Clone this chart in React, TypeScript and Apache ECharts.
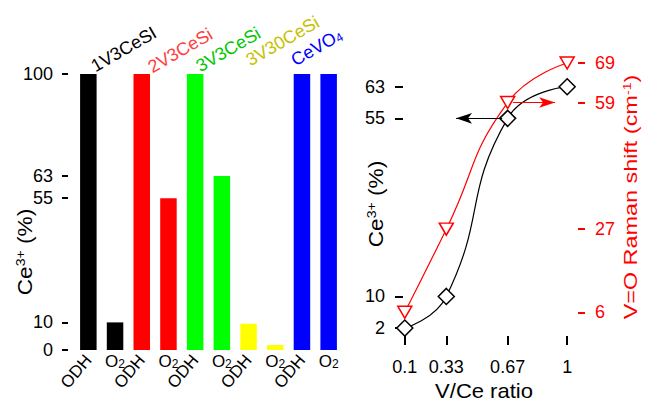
import React, { useEffect, useRef } from "react";
import * as echarts from "echarts";

const groups = ["1V3CeSI", "2V3CeSi", "3V3CeSi", "3V30CeSi", "CeVO4"];
const groupLabels = ["1V3CeSI", "2V3CeSi", "3V3CeSi", "3V30CeSi", "CeVO{sub|4}"];
const conditions = ["ODH", "O2"];
const odhValues = [100, 100, 100, 9.5, 100];
const o2Values = [10, 55, 63, 1.8, 100];
const barColors = ["#000000", "#ff0000", "#00ff00", "#ffff00", "#0000ff"];
const labelColors = ["#000000", "#ff4040", "#00c800", "#c8c000", "#0000ff"];
const leftTicks = [0, 10, 55, 63, 100];

const ratios = [0.1, 0.33, 0.67, 1];
const ce3Values = [2, 10, 55, 63];
const ramanValues = [6, 27, 59, 69];
const ce3Ticks = [2, 10, 55, 63];
const ramanTicks = [6, 27, 59, 69];

const FONT = "'Liberation Sans', Arial, sans-serif";

export default function App() {
  const ref = useRef<HTMLDivElement>(null);
  useEffect(() => {
    const chart = echarts.init(ref.current!, null, { renderer: "svg" });
    const categories = groups.flatMap((g) => conditions.map((c) => g + "|" + c));
    const barData = groups.flatMap((g, i) => [
      { value: odhValues[i], itemStyle: { color: barColors[i] } },
      { value: o2Values[i], itemStyle: { color: barColors[i] } },
    ]);
    const labelPos = [
      [97, 75],
      [154, 76],
      [202, 75],
      [252, 69],
      [297, 69],
    ];
    const topLabels = groupLabels.map((t, i) => ({
      type: "text",
      x: labelPos[i][0],
      y: labelPos[i][1],
      rotation: Math.PI / 6,
      style: {
        text: t,
        fill: labelColors[i],
        fontSize: 18,
        fontFamily: FONT,
        align: "left",
        verticalAlign: "bottom",
        rich: { sub: { fontSize: 12, fill: labelColors[i], fontFamily: FONT, verticalAlign: "bottom" } },
      },
    }));
    const axisTitle = (x: number, y: number, text: string, color: string, size: number, sx: number, rot: number) => ({
      type: "text",
      x,
      y,
      rotation: rot,
      scaleX: sx,
      style: {
        text,
        fill: color,
        fontSize: size,
        fontFamily: FONT,
        align: "center",
        verticalAlign: "middle",
        rich: {
          a: { fontSize: size, fill: color, fontFamily: FONT },
          sup: { fontSize: Math.round(size * 0.62), fill: color, fontFamily: FONT, verticalAlign: "top" },
        },
      },
    });
    const tickStyle = (color: string, width = 2) => ({ color, width });
    const option = {
      animation: false,
      backgroundColor: "#ffffff",
      textStyle: { fontFamily: FONT },
      grid: [
        { left: 75, top: 74, width: 267, height: 276 },
        { left: 403, top: 59, width: 175, height: 277 },
      ],
      xAxis: [
        {
          type: "category",
          gridIndex: 0,
          data: categories,
          axisLine: { show: false },
          axisTick: { show: false },
          splitLine: { show: false },
          axisLabel: {
            interval: 0,
            rotate: 50,
            margin: 7,
            fontSize: 17,
            color: "#000",
            fontFamily: FONT,
            formatter: (v: string) => (v.endsWith("ODH") ? "ODH" : ""),
          },
        },
        {
          type: "category",
          gridIndex: 0,
          position: "bottom",
          data: categories,
          axisLine: { show: false },
          axisTick: { show: false },
          splitLine: { show: false },
          axisLabel: {
            interval: 0,
            margin: 3,
            fontSize: 17,
            color: "#000",
            fontFamily: FONT,
            formatter: (v: string) => (v.endsWith("O2") ? "O{sub|2}" : ""),
            rich: { sub: { fontSize: 12, color: "#000", fontFamily: FONT, verticalAlign: "bottom" } },
          },
        },
        {
          type: "value",
          gridIndex: 1,
          min: 0.09,
          max: 1.06,
          offset: 2,
          axisLine: { show: false },
          splitLine: { show: false },
          axisTick: { show: true, customValues: ratios, length: 9, lineStyle: tickStyle("#000") },
          axisLabel: {
            customValues: ratios,
            margin: 20,
            fontSize: 18,
            color: "#000",
            fontFamily: FONT,
            formatter: (v: number) => String(v),
          },
        },
      ],
      yAxis: [
        {
          type: "value",
          gridIndex: 0,
          min: 0,
          max: 100,
          offset: 7,
          axisLine: { show: false },
          splitLine: { show: false },
          axisTick: { show: true, customValues: leftTicks, length: 6, lineStyle: tickStyle("#000") },
          axisLabel: { customValues: leftTicks, margin: 15, fontSize: 18, color: "#000", fontFamily: FONT },
        },
        {
          type: "value",
          gridIndex: 1,
          position: "left",
          min: 0,
          max: 70,
          axisLine: { show: false },
          splitLine: { show: false },
          axisTick: { show: true, customValues: ce3Ticks, length: 8, lineStyle: tickStyle("#000") },
          axisLabel: { customValues: ce3Ticks, margin: 18, fontSize: 18, color: "#000", fontFamily: FONT },
        },
        {
          type: "value",
          gridIndex: 1,
          position: "right",
          min: 0,
          max: 70,
          axisLine: { show: false },
          splitLine: { show: false },
          axisTick: { show: true, customValues: ramanTicks, length: 7, lineStyle: tickStyle("#ff0000") },
          axisLabel: { customValues: ramanTicks, margin: 17, fontSize: 18, color: "#ff0000", fontFamily: FONT },
        },
      ],
      series: [
        {
          type: "bar",
          xAxisIndex: 0,
          yAxisIndex: 0,
          data: barData,
          barWidth: 16.5,
          silent: true,
        },
        {
          type: "line",
          xAxisIndex: 2,
          yAxisIndex: 2,
          data: ratios.map((r, i) => [r, ramanValues[i]]),
          smooth: true,
          symbol: "triangle",
          symbolRotate: 180,
          symbolSize: [14, 12],
          color: "#ff0000",
          lineStyle: { color: "#ff0000", width: 1.2 },
          itemStyle: { color: "#ffffff", borderColor: "#ff0000", borderWidth: 1.5 },
          silent: true,
          markLine: {
            silent: true,
            symbol: ["none", "arrow"],
            symbolSize: [8, 16],
            label: { show: false },
            lineStyle: { color: "#ff0000", width: 1.2, type: "solid" },
            data: [[{ coord: [0.7, 59] }, { coord: [0.933, 59] }]],
          },
        },
        {
          type: "line",
          xAxisIndex: 2,
          yAxisIndex: 1,
          data: ratios.map((r, i) => [r, ce3Values[i]]),
          smooth: true,
          symbol: "diamond",
          symbolSize: 16,
          color: "#000000",
          lineStyle: { color: "#000000", width: 1.2 },
          itemStyle: { color: "#ffffff", borderColor: "#000000", borderWidth: 1.5 },
          silent: true,
          markLine: {
            silent: true,
            symbol: ["none", "arrow"],
            symbolSize: [8, 16],
            label: { show: false },
            lineStyle: { color: "#000000", width: 1.2, type: "solid" },
            data: [[{ coord: [0.64, 55] }, { coord: [0.384, 55] }]],
          },
        },
      ],
      graphic: [
        ...topLabels,
        axisTitle(25, 252, "{a|Ce}{sup|3+}{a| (%)}", "#000000", 21, 1.08, Math.PI / 2),
        axisTitle(376, 204, "{a|Ce}{sup|3+}{a| (%)}", "#000000", 21, 1.08, Math.PI / 2),
        axisTitle(631, 197, "{a|V=O Raman shift (cm}{sup|-1}{a|)}", "#ff0000", 18, 1.3, Math.PI / 2),
        axisTitle(484, 391, "{a|V/Ce ratio}", "#000000", 20, 1.1, 0),
      ],
    };
    chart.setOption(option as any);
    return () => chart.dispose();
  }, []);
  return (
    <div
      ref={ref}
      style={{ position: "fixed", left: 0, top: 0, width: 646, height: 401, background: "#fff" }}
    />
  );
}
